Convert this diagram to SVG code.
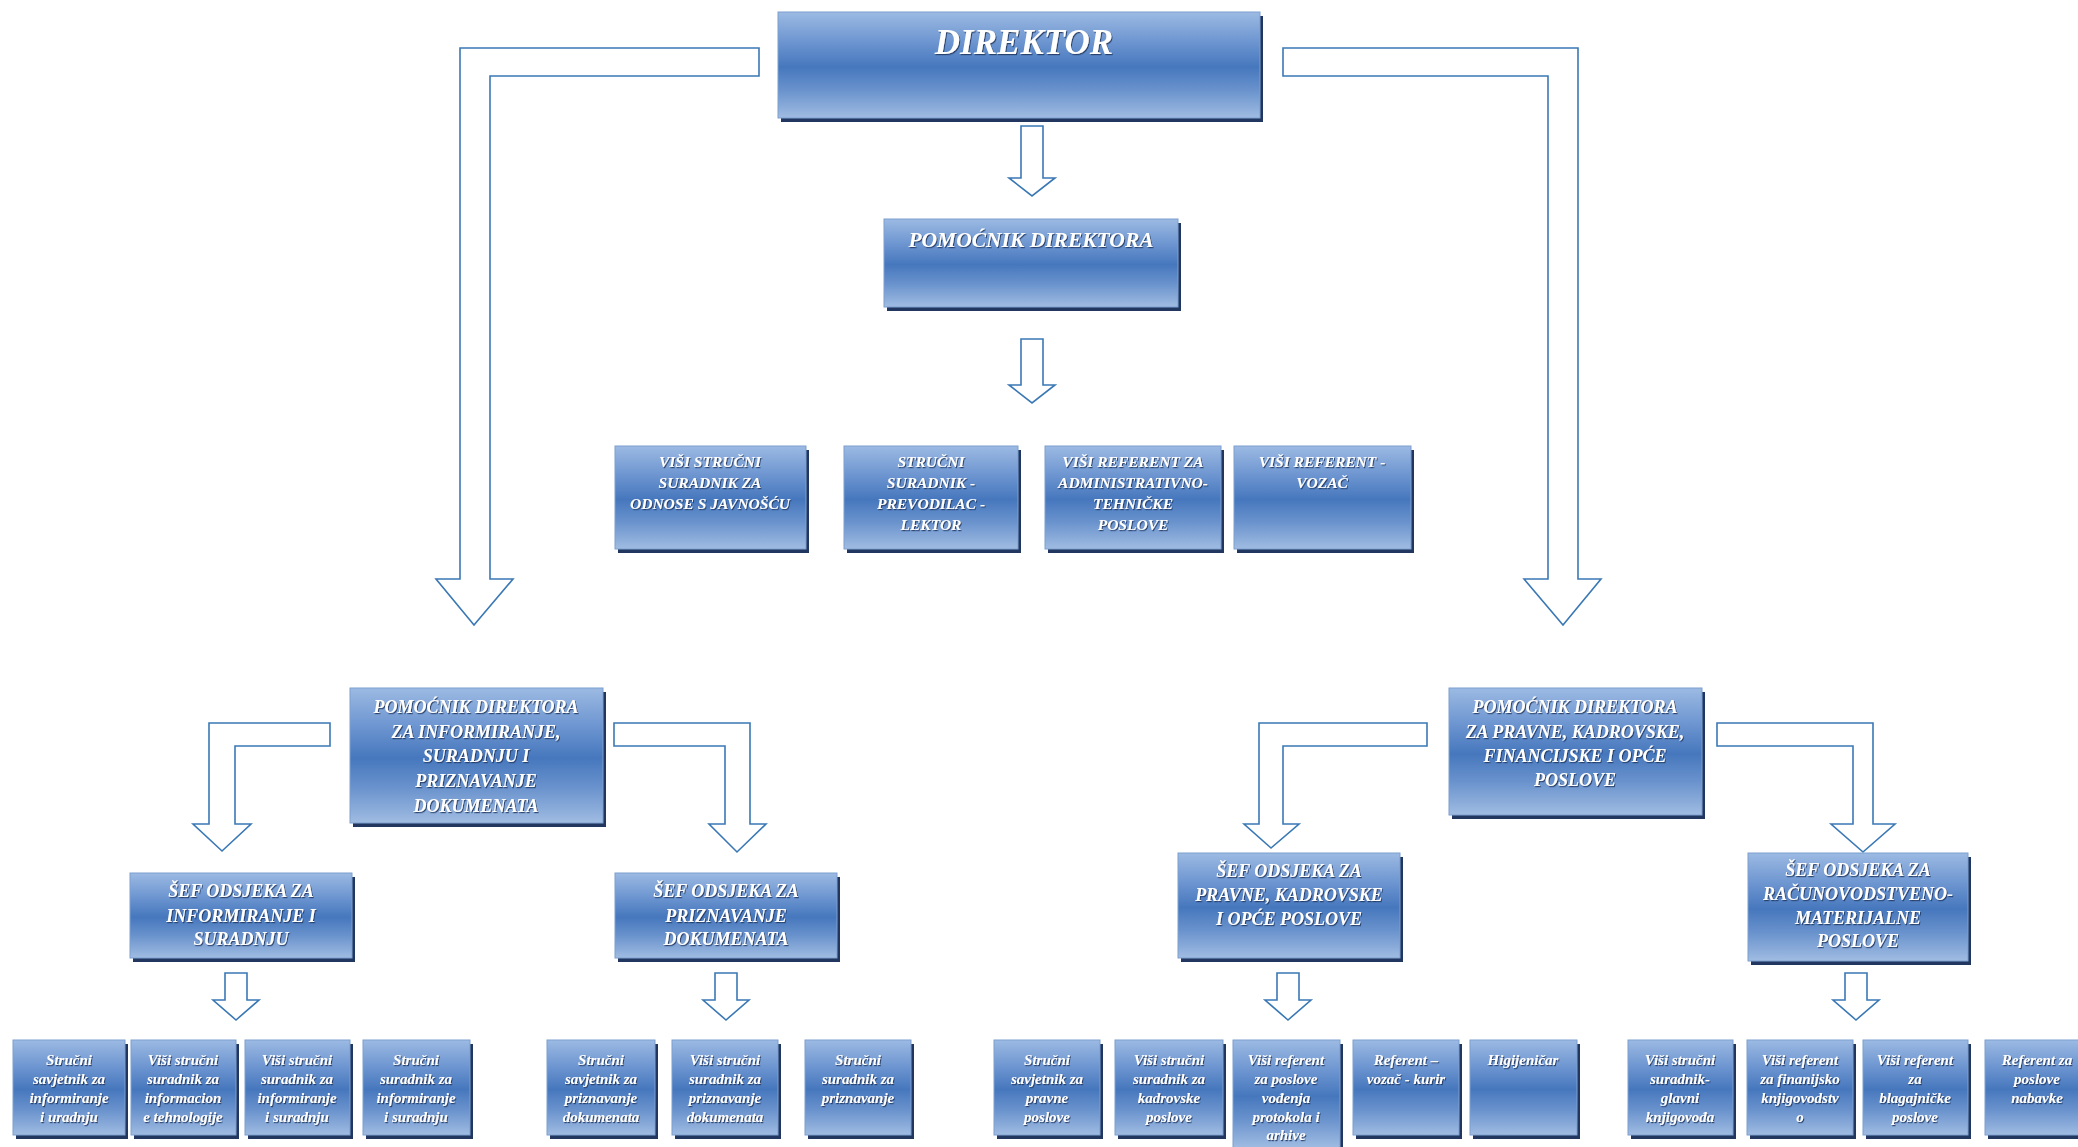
<svg xmlns="http://www.w3.org/2000/svg" width="2078" height="1147" viewBox="0 0 2078 1147">
<defs>
<linearGradient id="g" x1="0" y1="0" x2="0" y2="1">
<stop offset="0" stop-color="#9cbae3"/>
<stop offset="0.3" stop-color="#6a93cf"/>
<stop offset="0.52" stop-color="#4677bd"/>
<stop offset="0.74" stop-color="#6a93cd"/>
<stop offset="1" stop-color="#a0bce2"/>
</linearGradient>
<filter id="ts" x="-10%" y="-30%" width="120%" height="160%">
<feDropShadow dx="1" dy="1.2" stdDeviation="0.7" flood-color="#1c355f" flood-opacity="0.85"/>
</filter>
</defs>
<style>
.sh{fill:#22375f}
.bx{fill:url(#g);stroke:#7d9fd0;stroke-width:1}
.t{font-family:"Liberation Serif",serif;font-weight:bold;font-style:italic;fill:#ffffff;text-anchor:middle;filter:url(#ts)}
.a{fill:#ffffff;stroke:#3a78b5;stroke-width:1.6;stroke-linejoin:miter}
.f35{font-size:35px}.f21{font-size:21.5px}.f18{font-size:18px}.f15{font-size:15.5px}.f14{font-size:15px}
</style>
<rect width="2078" height="1147" fill="#ffffff"/>

<g id="connectors">
<path class="a" d="M759,48 H460 V579 H436 L474,625 L513,579 H490 V76 H759 Z"/>
<path class="a" d="M1283,48 H1578 V579 H1601 L1563,625 L1524,579 H1548 V76 H1283 Z"/>
<path class="a" d="M1021,126 H1043 V178 H1055 L1032,196 L1009,178 H1021 Z"/>
<path class="a" d="M1021,339 H1043 V385 H1055 L1032,403 L1009,385 H1021 Z"/>
<path class="a" d="M330,723 H209 V824 H193 L222,851 L251,824 H235 V746 H330 Z"/>
<path class="a" d="M614,723 H750 V824 H766 L737,852 L709,824 H725 V746 H614 Z"/>
<path class="a" d="M1427,723 H1259 V824 H1244 L1271,848 L1299,824 H1283 V746 H1427 Z"/>
<path class="a" d="M1717,723 H1873 V824 H1895 L1863,852 L1831,824 H1853 V746 H1717 Z"/>
<path class="a" d="M225,973 H247 V1000 H259 L236,1020 L213,1000 H225 Z"/>
<path class="a" d="M715,973 H737 V1000 H749 L726,1020 L703,1000 H715 Z"/>
<path class="a" d="M1277,973 H1299 V1000 H1311 L1288,1020 L1265,1000 H1277 Z"/>
<path class="a" d="M1845,973 H1867 V1000 H1879 L1856,1020 L1833,1000 H1845 Z"/>
</g>

<g id="n-direktor"><rect class="sh" x="781" y="16" width="482" height="106"/><rect class="bx" x="778" y="12" width="482" height="106"/><text class="t f35" x="1024" y="54">DIREKTOR</text></g>
<g id="n-pomocnik"><rect class="sh" x="887" y="223" width="294" height="88"/><rect class="bx" x="884" y="219" width="294" height="88"/><text class="t f21" x="1031" y="247">POMOĆNIK DIREKTORA</text></g>

<g id="n-r1"><rect class="sh" x="618" y="450" width="191" height="103"/><rect class="bx" x="615" y="446" width="191" height="103"/><text class="t f15" x="710" y="467">VIŠI STRUČNI<tspan x="710" y="488">SURADNIK ZA</tspan><tspan x="710" y="509">ODNOSE S JAVNOŠĆU</tspan></text></g>
<g id="n-r2"><rect class="sh" x="847" y="450" width="174" height="103"/><rect class="bx" x="844" y="446" width="174" height="103"/><text class="t f15" x="931" y="467">STRUČNI<tspan x="931" y="488">SURADNIK -</tspan><tspan x="931" y="509">PREVODILAC -</tspan><tspan x="931" y="530">LEKTOR</tspan></text></g>
<g id="n-r3"><rect class="sh" x="1048" y="450" width="176" height="103"/><rect class="bx" x="1045" y="446" width="176" height="103"/><text class="t f15" x="1133" y="467">VIŠI REFERENT ZA<tspan x="1133" y="488">ADMINISTRATIVNO-</tspan><tspan x="1133" y="509">TEHNIČKE</tspan><tspan x="1133" y="530">POSLOVE</tspan></text></g>
<g id="n-r4"><rect class="sh" x="1237" y="450" width="177" height="103"/><rect class="bx" x="1234" y="446" width="177" height="103"/><text class="t f15" x="1322" y="467">VIŠI REFERENT -<tspan x="1322" y="488">VOZAČ</tspan></text></g>

<g id="n-pd-left"><rect class="sh" x="353" y="692" width="253" height="135"/><rect class="bx" x="350" y="688" width="253" height="135"/><text class="t f18" x="476" y="713">POMOĆNIK DIREKTORA<tspan x="476" y="738">ZA INFORMIRANJE,</tspan><tspan x="476" y="762">SURADNJU I</tspan><tspan x="476" y="787">PRIZNAVANJE</tspan><tspan x="476" y="812">DOKUMENATA</tspan></text></g>
<g id="n-pd-right"><rect class="sh" x="1452" y="692" width="253" height="127"/><rect class="bx" x="1449" y="688" width="253" height="127"/><text class="t f18" x="1575" y="713">POMOĆNIK DIREKTORA<tspan x="1575" y="738">ZA PRAVNE, KADROVSKE,</tspan><tspan x="1575" y="762">FINANCIJSKE I OPĆE</tspan><tspan x="1575" y="786">POSLOVE</tspan></text></g>

<g id="n-sef-inf"><rect class="sh" x="133" y="877" width="222" height="85"/><rect class="bx" x="130" y="873" width="222" height="85"/><text class="t f18" x="241" y="897">ŠEF ODSJEKA ZA<tspan x="241" y="922">INFORMIRANJE I</tspan><tspan x="241" y="945">SURADNJU</tspan></text></g>
<g id="n-sef-pri"><rect class="sh" x="618" y="877" width="222" height="85"/><rect class="bx" x="615" y="873" width="222" height="85"/><text class="t f18" x="726" y="897">ŠEF ODSJEKA ZA<tspan x="726" y="922">PRIZNAVANJE</tspan><tspan x="726" y="945">DOKUMENATA</tspan></text></g>
<g id="n-sef-prav"><rect class="sh" x="1181" y="857" width="222" height="105"/><rect class="bx" x="1178" y="853" width="222" height="105"/><text class="t f18" x="1289" y="877">ŠEF ODSJEKA ZA<tspan x="1289" y="901">PRAVNE, KADROVSKE</tspan><tspan x="1289" y="925">I OPĆE POSLOVE</tspan></text></g>
<g id="n-sef-rac"><rect class="sh" x="1751" y="857" width="220" height="108"/><rect class="bx" x="1748" y="853" width="220" height="108"/><text class="t f18" x="1858" y="876">ŠEF ODSJEKA ZA<tspan x="1858" y="900">RAČUNOVODSTVENO-</tspan><tspan x="1858" y="924">MATERIJALNE</tspan><tspan x="1858" y="947">POSLOVE</tspan></text></g>

<g id="n-b1"><rect class="sh" x="16" y="1044" width="112" height="95"/><rect class="bx" x="13" y="1040" width="112" height="95"/><text class="t f14" x="69" y="1065">Stručni<tspan x="69" y="1084">savjetnik za</tspan><tspan x="69" y="1103">informiranje</tspan><tspan x="69" y="1122">i uradnju</tspan></text></g>
<g id="n-b2"><rect class="sh" x="134" y="1044" width="105" height="95"/><rect class="bx" x="131" y="1040" width="105" height="95"/><text class="t f14" x="183" y="1065">Viši stručni<tspan x="183" y="1084">suradnik za</tspan><tspan x="183" y="1103">informacion</tspan><tspan x="183" y="1122">e tehnologije</tspan></text></g>
<g id="n-b3"><rect class="sh" x="248" y="1044" width="105" height="95"/><rect class="bx" x="245" y="1040" width="105" height="95"/><text class="t f14" x="297" y="1065">Viši stručni<tspan x="297" y="1084">suradnik za</tspan><tspan x="297" y="1103">informiranje</tspan><tspan x="297" y="1122">i suradnju</tspan></text></g>
<g id="n-b4"><rect class="sh" x="366" y="1044" width="107" height="95"/><rect class="bx" x="363" y="1040" width="107" height="95"/><text class="t f14" x="416" y="1065">Stručni<tspan x="416" y="1084">suradnik za</tspan><tspan x="416" y="1103">informiranje</tspan><tspan x="416" y="1122">i suradnju</tspan></text></g>

<g id="n-c1"><rect class="sh" x="550" y="1044" width="108" height="95"/><rect class="bx" x="547" y="1040" width="108" height="95"/><text class="t f14" x="601" y="1065">Stručni<tspan x="601" y="1084">savjetnik za</tspan><tspan x="601" y="1103">priznavanje</tspan><tspan x="601" y="1122">dokumenata</tspan></text></g>
<g id="n-c2"><rect class="sh" x="675" y="1044" width="106" height="95"/><rect class="bx" x="672" y="1040" width="106" height="95"/><text class="t f14" x="725" y="1065">Viši stručni<tspan x="725" y="1084">suradnik za</tspan><tspan x="725" y="1103">priznavanje</tspan><tspan x="725" y="1122">dokumenata</tspan></text></g>
<g id="n-c3"><rect class="sh" x="808" y="1044" width="106" height="95"/><rect class="bx" x="805" y="1040" width="106" height="95"/><text class="t f14" x="858" y="1065">Stručni<tspan x="858" y="1084">suradnik za</tspan><tspan x="858" y="1103">priznavanje</tspan></text></g>

<g id="n-d1"><rect class="sh" x="997" y="1044" width="106" height="95"/><rect class="bx" x="994" y="1040" width="106" height="95"/><text class="t f14" x="1047" y="1065">Stručni<tspan x="1047" y="1084">savjetnik za</tspan><tspan x="1047" y="1103">pravne</tspan><tspan x="1047" y="1122">poslove</tspan></text></g>
<g id="n-d2"><rect class="sh" x="1118" y="1044" width="108" height="95"/><rect class="bx" x="1115" y="1040" width="108" height="95"/><text class="t f14" x="1169" y="1065">Viši stručni<tspan x="1169" y="1084">suradnik za</tspan><tspan x="1169" y="1103">kadrovske</tspan><tspan x="1169" y="1122">poslove</tspan></text></g>
<g id="n-d3"><rect class="sh" x="1236" y="1044" width="107" height="110"/><rect class="bx" x="1233" y="1040" width="107" height="108"/><text class="t f14" x="1286" y="1065">Viši referent<tspan x="1286" y="1084">za poslove</tspan><tspan x="1286" y="1103">vođenja</tspan><tspan x="1286" y="1122">protokola i</tspan><tspan x="1286" y="1140">arhive</tspan></text></g>
<g id="n-d4"><rect class="sh" x="1356" y="1044" width="106" height="95"/><rect class="bx" x="1353" y="1040" width="106" height="95"/><text class="t f14" x="1406" y="1065">Referent –<tspan x="1406" y="1084">vozač - kurir</tspan></text></g>
<g id="n-d5"><rect class="sh" x="1473" y="1044" width="107" height="95"/><rect class="bx" x="1470" y="1040" width="107" height="95"/><text class="t f14" x="1523" y="1065">Higijeničar</text></g>

<g id="n-e1"><rect class="sh" x="1631" y="1044" width="105" height="95"/><rect class="bx" x="1628" y="1040" width="105" height="95"/><text class="t f14" x="1680" y="1065">Viši stručni<tspan x="1680" y="1084">suradnik-</tspan><tspan x="1680" y="1103">glavni</tspan><tspan x="1680" y="1122">knjigovođa</tspan></text></g>
<g id="n-e2"><rect class="sh" x="1750" y="1044" width="106" height="95"/><rect class="bx" x="1747" y="1040" width="106" height="95"/><text class="t f14" x="1800" y="1065">Viši referent<tspan x="1800" y="1084">za finanijsko</tspan><tspan x="1800" y="1103">knjigovodstv</tspan><tspan x="1800" y="1122">o</tspan></text></g>
<g id="n-e3"><rect class="sh" x="1866" y="1044" width="105" height="95"/><rect class="bx" x="1863" y="1040" width="105" height="95"/><text class="t f14" x="1915" y="1065">Viši referent<tspan x="1915" y="1084">za</tspan><tspan x="1915" y="1103">blagajničke</tspan><tspan x="1915" y="1122">poslove</tspan></text></g>
<g id="n-e4"><rect class="sh" x="1988" y="1044" width="105" height="95"/><rect class="bx" x="1985" y="1040" width="105" height="95"/><text class="t f14" x="2037" y="1065">Referent za<tspan x="2037" y="1084">poslove</tspan><tspan x="2037" y="1103">nabavke</tspan></text></g>
</svg>
